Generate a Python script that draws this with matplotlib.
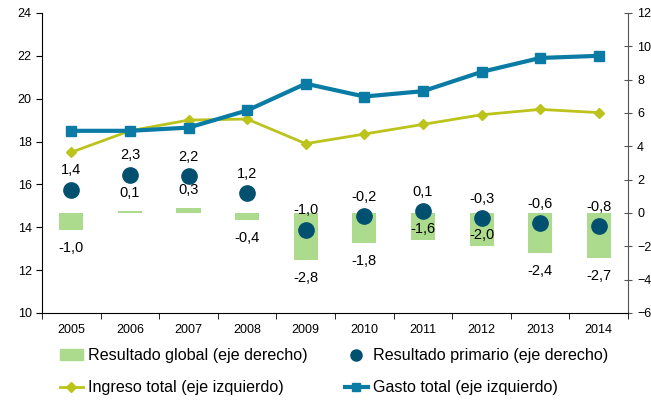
import matplotlib
import matplotlib.pyplot as plt
import numpy as np

matplotlib.rcParams["font.family"] = ["Liberation Sans", "DejaVu Sans"]

# datos
years = ["2005", "2006", "2007", "2008", "2009", "2010", "2011", "2012", "2013", "2014"]
ingreso = [17.5, 18.5, 19.0, 19.05, 17.9, 18.35, 18.8, 19.25, 19.5, 19.35]
gasto = [18.5, 18.5, 18.65, 19.45, 20.7, 20.1, 20.35, 21.25, 21.9, 22.0]
res_global = [-1.0, 0.1, 0.3, -0.4, -2.8, -1.8, -1.6, -2.0, -2.4, -2.7]
res_primario = [1.4, 2.3, 2.2, 1.2, -1.0, -0.2, 0.1, -0.3, -0.6, -0.8]

C_BAR = "#acdb8e"
C_DOT = "#01506f"
C_GASTO = "#0a7ba5"
C_INGRESO = "#bcc31a"


def fmt(v):
    return f"{v:.1f}".replace(".", ",")


fig = plt.figure(figsize=(6.51, 4.05), dpi=100)
ax = fig.add_axes([0.0645, 0.2272, 0.9003, 0.7408])
ax2 = ax.twinx()

x = np.arange(len(years))

# eje derecho: barras y puntos
bars = ax2.bar(x, res_global, width=0.41, color=C_BAR, zorder=1)
ax2.plot(x, res_primario, "o", color=C_DOT, markersize=11, zorder=3)
ax2.set_ylim(-6, 12)
ax2.set_yticks(range(-6, 13, 2))

# etiquetas; 2011 y 2012 van dentro de la barra
inside = {6, 7}
for i, v in enumerate(res_global):
    if v >= 0:
        ax2.annotate(fmt(v), (x[i], v), xytext=(0, 13), textcoords="offset points",
                     ha="center", va="center", fontsize=10.5)
    elif i in inside:
        ax2.annotate(fmt(v), (x[i], v), xytext=(0, 8), textcoords="offset points",
                     ha="center", va="center", fontsize=10.5)
    else:
        ax2.annotate(fmt(v), (x[i], v), xytext=(0, -13), textcoords="offset points",
                     ha="center", va="center", fontsize=10.5)
for i, v in enumerate(res_primario):
    ax2.annotate(fmt(v), (x[i], v), xytext=(0, 14), textcoords="offset points",
                 ha="center", va="center", fontsize=10.5)

# eje izquierdo: líneas
ax.set_zorder(ax2.get_zorder() + 1)
ax.patch.set_visible(False)
ax.plot(x, ingreso, color=C_INGRESO, lw=2, marker="D", markersize=5, zorder=4)
ax.plot(x, gasto, color=C_GASTO, lw=3, marker="s", markersize=7, zorder=5)
ax.set_ylim(10, 24)
ax.set_yticks(range(10, 25, 2))
ax.set_xlim(-0.5, len(years) - 0.5)
ax.set_xticks(x)
ax.set_xticklabels(years)
ax.set_xticks(np.arange(-0.5, len(years)), minor=True)
ax.tick_params(axis="x", which="major", length=0, pad=8, labelsize=9)
ax.tick_params(axis="x", which="minor", length=4, direction="out")
ax.tick_params(axis="y", labelsize=9, length=4, direction="out")
ax2.tick_params(axis="y", labelsize=9, length=6, direction="inout", color="#555555")

for a in (ax, ax2):
    a.spines["top"].set_visible(False)
ax.spines["right"].set_visible(False)
ax2.spines["left"].set_visible(False)
ax2.spines["bottom"].set_visible(False)
ax2.spines["right"].set_color("#555555")

# leyenda
h_global = plt.Rectangle((0, 0), 1, 1, color=C_BAR)
h_prim = plt.Line2D([], [], ls="none", marker="o", color=C_DOT, markersize=8)
h_ing = plt.Line2D([], [], color=C_INGRESO, lw=2, marker="D", markersize=5)
h_gas = plt.Line2D([], [], color=C_GASTO, lw=3, marker="s", markersize=6)
fig.legend(
    [h_global, h_ing, h_prim, h_gas],
    ["Resultado global (eje derecho)", "Ingreso total (eje izquierdo)",
     "Resultado primario (eje derecho)", "Gasto total (eje izquierdo)"],
    loc="lower left", bbox_to_anchor=(0.07, -0.012), ncol=2, frameon=False,
    fontsize=11.6, handlelength=1.4, handletextpad=0.35, columnspacing=2.3,
    labelspacing=1.05,
)

fig.savefig("out.png", dpi=100)
